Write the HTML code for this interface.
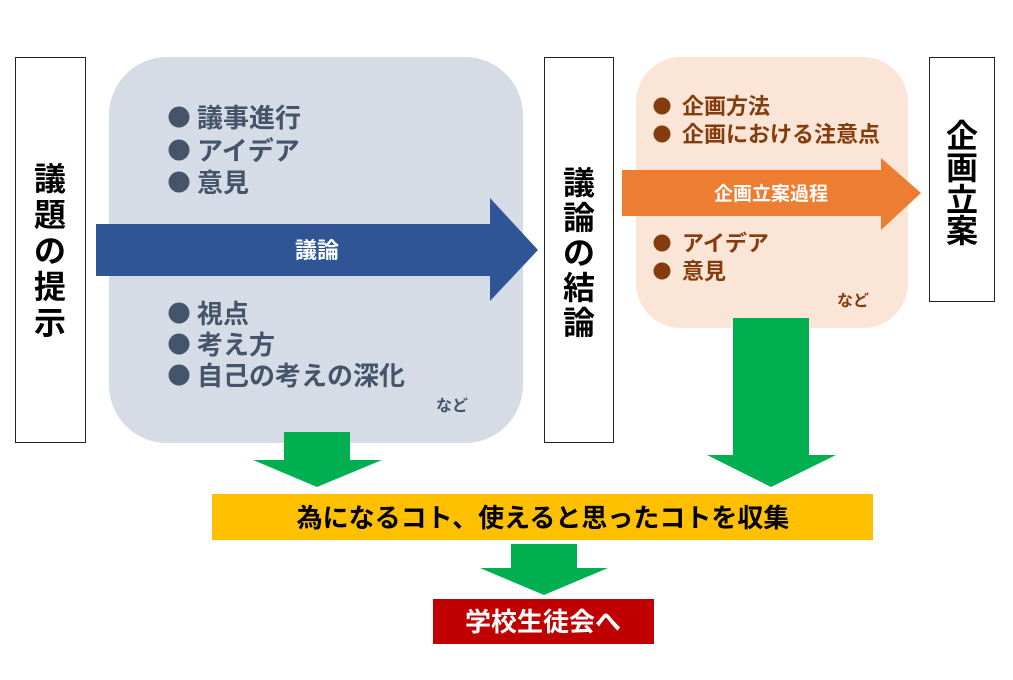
<!DOCTYPE html>
<html><head><meta charset="utf-8"><style>
html,body{margin:0;padding:0;background:#fff;}
svg text{font-family:"Liberation Sans","Noto Sans CJK JP",sans-serif;font-weight:bold;}
</style></head><body>
<svg width="1013" height="675" viewBox="0 0 1013 675" xmlns="http://www.w3.org/2000/svg">
<rect width="1013" height="675" fill="#fff"/>
<!-- left box -->
<rect x="15.5" y="57.5" width="70" height="385" fill="#fff" stroke="#222" stroke-width="1"/>
<g font-size="32" text-anchor="middle" fill="#000">
<text x="50" y="190">議</text>
<text x="50" y="226">題</text>
<text x="50" y="262">の</text>
<text x="50" y="298">提</text>
<text x="50" y="334">示</text>
</g>
<!-- gray rounded -->
<rect x="109" y="57" width="414" height="386" rx="58" fill="#d6dce5"/>
<g fill="#44546a">
<circle cx="179" cy="117" r="10.5"/><circle cx="179" cy="150" r="10.5"/><circle cx="179" cy="182" r="10.5"/>
<circle cx="179" cy="313" r="10.5"/><circle cx="179" cy="344" r="10.5"/><circle cx="179" cy="375" r="10.5"/>
</g>
<g fill="#44546a" font-size="26">
<text x="197" y="127">議事進行</text>
<text x="197" y="160">アイデア</text>
<text x="197" y="192">意見</text>
<text x="197" y="323">視点</text>
<text x="197" y="354">考え方</text>
<text x="197" y="385">自己の考えの深化</text>
<text x="436" y="411" font-size="16">など</text>
</g>
<!-- blue arrow -->
<polygon points="96,224 490,224 490,198 538,250 490,301 490,276 96,276" fill="#2f5597"/>
<text x="317" y="258" font-size="22" fill="#fff" text-anchor="middle">議論</text>
<!-- middle box -->
<rect x="544.5" y="57.5" width="69" height="385" fill="#fff" stroke="#222" stroke-width="1"/>
<g font-size="32" text-anchor="middle" fill="#000">
<text x="579" y="194">議</text>
<text x="579" y="229">論</text>
<text x="579" y="264">の</text>
<text x="579" y="299">結</text>
<text x="579" y="334">論</text>
</g>
<!-- orange rounded -->
<rect x="636" y="57" width="272" height="271" rx="45" fill="#fbe5d6"/>
<g fill="#843c0c">
<circle cx="662" cy="106" r="8.5"/><circle cx="662" cy="134" r="8.5"/>
<circle cx="662" cy="243" r="8.5"/><circle cx="662" cy="271" r="8.5"/>
</g>
<g fill="#843c0c" font-size="22">
<text x="682" y="114">企画方法</text>
<text x="682" y="142">企画における注意点</text>
<text x="682" y="251">アイデア</text>
<text x="682" y="279">意見</text>
<text x="837" y="306" font-size="16">など</text>
</g>
<!-- orange arrow -->
<polygon points="622,170 881,170 881,158 921,193 881,230 881,216 622,216" fill="#ed7d31"/>
<text x="771" y="200" font-size="19" fill="#fff" text-anchor="middle">企画立案過程</text>
<!-- right box -->
<rect x="929.5" y="57.5" width="65" height="244" fill="#fff" stroke="#222" stroke-width="1"/>
<g font-size="32" text-anchor="middle" fill="#000">
<text x="962" y="147">企</text>
<text x="962" y="179">画</text>
<text x="962" y="211">立</text>
<text x="962" y="242">案</text>
</g>
<!-- green arrows -->
<polygon points="284,432 350,432 350,460 382,460 317,487 253,460 284,460" fill="#00b050"/>
<polygon points="733,318 809,318 809,455 836,455 771,487 707,455 733,455" fill="#00b050"/>
<polygon points="511,544 577,544 577,568 608,568 544,595 480,568 511,568" fill="#00b050"/>
<!-- yellow bar -->
<rect x="212" y="494" width="661" height="46" fill="#ffc000"/>
<text x="543" y="527" font-size="26" fill="#000" text-anchor="middle">為になるコト、使えると思ったコトを収集</text>
<!-- red box -->
<rect x="433" y="599" width="221" height="45" fill="#c00000"/>
<text x="543" y="631" font-size="26" fill="#fff" text-anchor="middle">学校生徒会へ</text>
</svg>
</body></html>
